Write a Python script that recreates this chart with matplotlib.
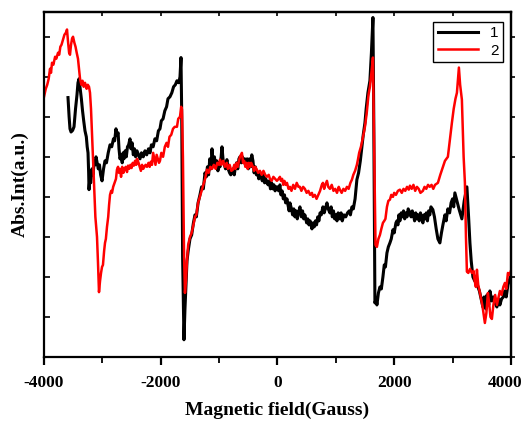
from matplotlib import pyplot as plt
from matplotlib.ticker import MultipleLocator, FuncFormatter

plt.rcParams["axes.unicode_minus"] = False

# Series 1 (black)
field_1 = [-3589, -3570, -3555, -3537, -3510, -3486, -3460, -3435, -3418, -3400,
           -3380, -3360, -3340, -3320, -3298, -3275, -3260, -3246, -3235, -3229,
           -3215, -3200, -3178, -3160, -3140, -3120, -3109, -3090, -3070, -3050,
           -3030, -3006, -2980, -2955, -2930, -2900, -2869, -2840, -2810, -2790,
           -2767, -2750, -2730, -2715, -2698, -2680, -2660, -2645, -2630, -2610,
           -2590, -2570, -2550, -2527, -2510, -2490, -2470, -2450, -2430, -2407,
           -2380, -2355, -2330, -2300, -2270, -2240, -2210, -2184, -2160, -2130,
           -2100, -2070, -2040, -2013, -1990, -1960, -1930, -1900, -1876, -1842,
           -1810, -1780, -1750, -1722, -1690, -1670, -1653, -1640, -1625, -1602,
           -1585, -1568, -1550, -1530, -1499, -1470, -1440, -1413, -1390, -1360,
           -1328, -1300, -1270, -1242, -1220, -1200, -1180, -1160, -1140, -1122,
           -1100, -1080, -1060, -1040, -1020, -1000, -985, -965, -951, -930,
           -910, -890, -866, -845, -820, -800, -780, -763, -740, -720,
           -700, -680, -660, -643, -620, -600, -580, -560, -540, -520,
           -500, -480, -460, -440, -420, -400, -380, -360, -340, -320,
           -300, -280, -260, -240, -220, -200, -180, -160, -140, -120,
           -100, -80, -60, -40, -20, 0, 20, 42, 60, 80,
           100, 120, 140, 163, 180, 200, 214, 240, 260, 280,
           300, 320, 340, 360, 385, 410, 430, 450, 470, 500,
           520, 540, 560, 591, 610, 630, 650, 670, 690, 710,
           730, 750, 779, 800, 820, 848, 870, 899, 920, 940,
           960, 980, 1000, 1020, 1040, 1070, 1090, 1110, 1140, 1170,
           1200, 1230, 1250, 1276, 1300, 1330, 1361, 1390, 1420, 1450,
           1470, 1499, 1520, 1550, 1584, 1610, 1636, 1650, 1670, 1690,
           1704, 1730, 1756, 1780, 1807, 1830, 1850, 1876, 1900, 1927,
           1950, 1979, 2000, 2030, 2047, 2064, 2080, 2098, 2120, 2140,
           2160, 2180, 2200, 2220, 2240, 2270, 2290, 2310, 2330, 2350,
           2370, 2390, 2410, 2430, 2450, 2470, 2492, 2510, 2530, 2550,
           2570, 2590, 2610, 2630, 2663, 2690, 2720, 2749, 2783, 2810,
           2835, 2869, 2890, 2920, 2950, 2975, 3000, 3020, 3040, 3075,
           3110, 3160, 3200, 3246, 3275, 3298, 3320, 3349, 3380, 3418,
           3435, 3460, 3490, 3520, 3540, 3570, 3590, 3620, 3640, 3674,
           3700, 3730, 3760, 3790, 3811, 3840, 3870, 3897, 3920, 3949,
           3970, 3990]
int_1 = [6.48, 6.0, 5.70, 5.62, 5.66, 5.75, 6.2, 6.55, 6.85, 6.95,
         6.7, 6.45, 6.15, 5.9, 5.65, 5.5, 5.25, 5.1, 4.6, 4.18,
         4.45, 4.35, 4.7, 4.55, 4.9, 4.8, 5.0, 4.85, 4.7, 4.8,
         4.55, 4.4, 4.7, 4.9, 4.85, 5.1, 5.3, 5.25, 5.45, 5.4,
         5.7, 5.55, 5.6, 5.2, 4.95, 5.05, 4.85, 5.1, 4.95, 5.15,
         5.0, 5.25, 5.3, 5.45, 5.2, 5.35, 5.05, 5.2, 5.0, 5.15,
         5.05, 4.95, 5.1, 5.0, 5.15, 5.05, 5.2, 5.1, 5.3, 5.25,
         5.45, 5.4, 5.65, 5.7, 5.9, 5.95, 6.15, 6.25, 6.45, 6.5,
         6.6, 6.75, 6.8, 6.9, 6.85, 7.0, 7.48, 6.0, 2.5, 0.43,
         1.2, 1.8, 2.4, 2.65, 2.95, 3.05, 3.35, 3.55, 3.5, 3.85,
         4.05, 4.25, 4.2, 4.6, 4.5, 4.75, 4.55, 4.95, 4.7, 5.2,
         4.8, 5.0, 4.75, 4.9, 4.65, 4.85, 4.75, 5.0, 5.25, 4.9,
         4.8, 4.7, 4.93, 4.7, 4.6, 4.55, 4.65, 4.7, 4.55, 4.75,
         4.85, 4.7, 4.95, 5.0, 4.85, 5.0, 4.85, 4.95, 4.8, 4.95,
         4.7, 4.95, 4.75, 5.05, 4.9, 4.6, 4.75, 4.55, 4.6, 4.45,
         4.6, 4.5, 4.4, 4.55, 4.35, 4.45, 4.35, 4.3, 4.4, 4.2,
         4.35, 4.2, 4.3, 4.15, 4.25, 4.25, 4.15, 4.3, 4.05, 4.15,
         3.95, 4.05, 3.85, 3.95, 3.8, 3.65, 3.85, 3.7, 3.55, 3.7,
         3.5, 3.65, 3.45, 3.6, 3.75, 3.5, 3.65, 3.45, 3.55, 3.35,
         3.45, 3.3, 3.4, 3.2, 3.35, 3.25, 3.4, 3.3, 3.5, 3.4,
         3.6, 3.55, 3.75, 3.6, 3.7, 3.85, 3.7, 3.6, 3.75, 3.5,
         3.65, 3.45, 3.55, 3.4, 3.6, 3.45, 3.6, 3.4, 3.55, 3.5,
         3.6, 3.65, 3.55, 3.75, 3.7, 3.95, 4.43, 4.6, 4.9, 5.3,
         5.55, 5.85, 6.2, 6.6, 6.9, 7.6, 8.48, 6.0, 1.35, 1.45,
         1.3, 1.6, 1.75, 1.7, 2.0, 2.3, 2.25, 2.6, 2.75, 2.85,
         2.95, 3.18, 3.1, 3.35, 3.4, 3.3, 3.55, 3.4, 3.6, 3.5,
         3.65, 3.45, 3.6, 3.5, 3.7, 3.6, 3.5, 3.65, 3.55, 3.4,
         3.6, 3.45, 3.55, 3.4, 3.6, 3.5, 3.35, 3.55, 3.45, 3.6,
         3.4, 3.65, 3.55, 3.75, 3.68, 3.5, 3.2, 2.95, 2.85, 3.1,
         3.3, 3.55, 3.4, 3.7, 3.6, 3.85, 3.95, 3.75, 4.1, 3.9,
         3.7, 3.45, 3.9, 4.25, 3.5, 2.85, 2.4, 2.0, 1.9, 1.85,
         1.75, 1.65, 1.45, 1.25, 1.5, 1.2, 1.55, 1.3, 1.65, 1.4,
         1.5, 1.35, 1.25, 1.45, 1.3, 1.45, 1.5, 1.65, 1.5, 1.8,
         1.9, 2.0]

# Series 2 (red)
field_2 = [-4000, -3970, -3945, -3920, -3897, -3880, -3863, -3840, -3810, -3790,
           -3760, -3740, -3720, -3700, -3675, -3650, -3625, -3606, -3590, -3570,
           -3555, -3537, -3520, -3503, -3480, -3460, -3440, -3418, -3400, -3383,
           -3360, -3340, -3320, -3298, -3270, -3250, -3229, -3212, -3195, -3178,
           -3161, -3140, -3120, -3092, -3075, -3058, -3040, -3023, -3006, -2990,
           -2970, -2955, -2940, -2921, -2900, -2885, -2869, -2850, -2835, -2815,
           -2790, -2767, -2750, -2732, -2715, -2698, -2680, -2660, -2640, -2620,
           -2600, -2578, -2560, -2540, -2520, -2500, -2480, -2460, -2440, -2420,
           -2407, -2380, -2360, -2340, -2320, -2300, -2280, -2260, -2236, -2210,
           -2190, -2170, -2150, -2130, -2110, -2090, -2070, -2050, -2030, -2013,
           -1990, -1960, -1930, -1900, -1876, -1850, -1820, -1790, -1760, -1722,
           -1700, -1670, -1650, -1636, -1620, -1600, -1585, -1568, -1550, -1530,
           -1499, -1470, -1440, -1413, -1390, -1360, -1330, -1300, -1270, -1240,
           -1208, -1180, -1150, -1120, -1090, -1060, -1030, -1000, -985, -960,
           -930, -900, -870, -850, -820, -790, -763, -740, -720, -700,
           -680, -660, -643, -625, -609, -590, -570, -550, -530, -510,
           -490, -470, -450, -420, -400, -380, -360, -330, -300, -270,
           -240, -210, -180, -150, -129, -100, -70, -40, -9, 20,
           42, 60, 80, 100, 120, 140, 163, 190, 214, 240,
           270, 300, 330, 360, 385, 410, 440, 470, 500, 530,
           560, 591, 608, 640, 670, 700, 730, 760, 779, 800,
           820, 848, 870, 899, 930, 960, 990, 1020, 1050, 1070,
           1100, 1130, 1160, 1190, 1220, 1250, 1276, 1300, 1330, 1361,
           1379, 1400, 1430, 1460, 1499, 1530, 1560, 1584, 1610, 1636,
           1660, 1680, 1704, 1730, 1756, 1780, 1807, 1830, 1850, 1876,
           1900, 1927, 1950, 1979, 2000, 2030, 2064, 2098, 2130, 2160,
           2190, 2220, 2250, 2270, 2300, 2330, 2360, 2390, 2420, 2450,
           2492, 2520, 2550, 2580, 2610, 2640, 2670, 2700, 2749, 2790,
           2835, 2870, 2920, 2960, 2989, 3020, 3050, 3075, 3109, 3130,
           3160, 3190, 3212, 3230, 3246, 3270, 3300, 3330, 3360, 3380,
           3400, 3418, 3440, 3470, 3503, 3520, 3554, 3580, 3606, 3630,
           3650, 3674, 3700, 3730, 3760, 3790, 3811, 3840, 3870, 3897,
           3920, 3949, 3975, 4000]
int_2 = [6.5, 6.7, 6.8, 6.95, 7.2, 7.1, 7.35, 7.3, 7.5, 7.45,
         7.6, 7.55, 7.75, 7.8, 7.93, 8.05, 8.1, 8.18, 7.9, 7.6,
         7.55, 7.8, 7.95, 8.0, 7.85, 7.75, 7.6, 7.45, 7.2, 6.95,
         6.8, 6.9, 6.75, 6.85, 6.7, 6.8, 6.75, 6.6, 6.2, 5.6,
         5.0, 4.2, 3.5, 3.0, 2.35, 1.62, 1.9, 2.1, 2.25, 2.3,
         2.65, 2.85, 2.95, 3.25, 3.5, 3.8, 4.05, 4.15, 4.1, 4.25,
         4.35, 4.45, 4.68, 4.75, 4.6, 4.7, 4.5, 4.75, 4.6, 4.7,
         4.75, 4.62, 4.78, 4.7, 4.8, 4.72, 4.85, 4.78, 4.9, 4.8,
         4.95, 4.85, 4.75, 4.65, 4.8, 4.7, 4.75, 4.8, 4.75, 4.85,
         4.75, 4.88, 4.8, 5.1, 4.95, 4.8, 5.05, 4.95, 4.85, 4.9,
         5.1, 5.0, 5.25, 5.35, 5.25, 5.5, 5.55, 5.7, 5.75, 5.75,
         5.95, 6.0, 6.25, 6.18, 5.0, 2.5, 1.6, 1.9, 2.4, 2.8,
         3.0, 3.1, 3.3, 3.5, 3.55, 3.85, 4.0, 4.15, 4.3, 4.45,
         4.68, 4.6, 4.75, 4.7, 4.8, 4.7, 4.85, 4.8, 4.93, 4.8,
         4.9, 4.75, 4.85, 4.7, 4.8, 4.65, 4.68, 4.8, 4.7, 4.85,
         4.75, 4.9, 5.0, 5.05, 5.1, 4.85, 4.9, 4.75, 4.85, 4.7,
         4.85, 4.75, 4.85, 4.75, 4.65, 4.75, 4.7, 4.6, 4.65, 4.55,
         4.65, 4.55, 4.5, 4.55, 4.45, 4.4, 4.5, 4.45, 4.4, 4.45,
         4.5, 4.4, 4.45, 4.3, 4.4, 4.3, 4.35, 4.2, 4.25, 4.15,
         4.3, 4.2, 4.35, 4.25, 4.25, 4.15, 4.25, 4.2, 4.1, 4.15,
         4.05, 4.1, 4.0, 4.05, 3.95, 4.05, 4.15, 4.3, 4.35, 4.2,
         4.3, 4.4, 4.25, 4.2, 4.3, 4.15, 4.2, 4.1, 4.25, 4.18,
         4.1, 4.2, 4.15, 4.25, 4.2, 4.35, 4.43, 4.55, 4.65, 4.8,
         4.93, 5.1, 5.25, 5.45, 5.75, 6.1, 6.55, 6.75, 7.1, 7.48,
         5.0, 2.8, 2.75, 2.95, 3.05, 3.2, 3.35, 3.4, 3.45, 3.75,
         3.9, 3.93, 4.05, 4.0, 4.1, 4.05, 4.15, 4.18, 4.1, 4.2,
         4.15, 4.25, 4.18, 4.28, 4.2, 4.3, 4.15, 4.25, 4.2, 4.1,
         4.15, 4.25, 4.2, 4.3, 4.25, 4.3, 4.2, 4.3, 4.35, 4.55,
         4.75, 4.9, 5.0, 5.5, 5.85, 6.2, 6.45, 6.6, 7.23, 6.8,
         6.43, 5.0, 4.35, 3.0, 2.13, 2.1, 2.2, 2.1, 2.15, 1.9,
         1.75, 2.18, 1.8, 1.6, 1.35, 1.2, 0.85, 1.1, 1.6, 1.3,
         1.0, 0.95, 1.3, 1.55, 1.3, 1.5, 1.65, 1.55, 1.75, 1.85,
         1.7, 2.1, 2.05, 2.15]

fig = plt.figure(figsize=(5.24, 4.25), dpi=100)
ax = fig.add_axes([0.084, 0.16, 0.891, 0.812])

ax.plot(field_1, int_1, color="black", linewidth=2.2, label="1")
ax.plot(field_2, int_2, color="red", linewidth=1.8, label="2")

ax.set_xlim(-4000, 4000)
ax.set_ylim(0, 8.62)

ax.xaxis.set_major_locator(MultipleLocator(2000))
ax.xaxis.set_minor_locator(MultipleLocator(1000))
# the last label (4000) is drawn separately so it stays inside the picture
ax.xaxis.set_major_formatter(FuncFormatter(lambda v, p: "" if v >= 4000 else f"{v:.0f}"))
ax.yaxis.set_major_locator(MultipleLocator(1))
ax.set_yticklabels([])

for s in ax.spines.values():
    s.set_linewidth(1.6)

ax.tick_params(axis="x", which="major", direction="out", length=6, width=1.6,
               top=False, labelsize=12.5, pad=7)
ax.tick_params(axis="x", which="minor", direction="out", length=4, width=1.3,
               top=False)
ax.tick_params(axis="y", which="major", direction="in", length=4, width=1.2,
               labelleft=False)

# top ticks every 1000, inward; right ticks outward
top = ax.secondary_xaxis("top")
top.set_xticks([-3000, -2000, -1000, 0, 1000, 2000, 3000])
top.tick_params(direction="in", length=3, width=1.2, labeltop=False)
top.spines["top"].set_linewidth(1.6)
right = ax.secondary_yaxis("right")
right.yaxis.set_major_locator(MultipleLocator(1))
right.tick_params(direction="out", length=3, width=1.2, labelright=False)
right.spines["right"].set_linewidth(1.6)

for lbl in ax.get_xticklabels():
    lbl.set_fontfamily("Liberation Serif")
    lbl.set_fontweight("bold")

ax.annotate("4000", xy=(4000, 0), xycoords=("data", "axes fraction"),
            xytext=(8.5, -13), textcoords="offset points", ha="right", va="top",
            fontfamily="Liberation Serif", fontweight="bold", fontsize=12.5)

ax.set_xlabel("Magnetic field(Gauss)", fontfamily="Liberation Serif",
              fontweight="bold", fontsize=14, labelpad=8)
ax.set_ylabel("Abs.Int(a.u.)", fontfamily="Liberation Serif",
              fontweight="bold", fontsize=14, labelpad=11)

ax.legend(loc="upper right", prop={"family": "Liberation Sans", "size": 11},
          fancybox=False, edgecolor="black", framealpha=1, handlelength=2.6,
          borderpad=0.3, labelspacing=0.2, borderaxespad=0,
          bbox_to_anchor=(0.983, 0.971))
ax.get_legend().get_frame().set_linewidth(1.0)

plt.savefig("out.png")
